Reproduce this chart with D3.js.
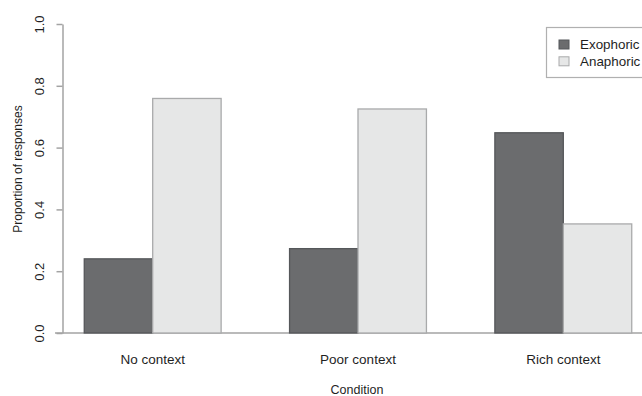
<!DOCTYPE html>
<html>
<head>
<meta charset="utf-8">
<script src="https://cdn.jsdelivr.net/npm/d3@7"></script>
<style>
  html, body { margin: 0; padding: 0; background: #fff; }
  svg { display: block; font-family: "Liberation Sans", Arial, Helvetica, sans-serif; }
</style>
</head>
<body>
<svg id="chart" width="642" height="396"></svg>
<script>
// Conditions on the x axis
const categories = ["No context", "Poor context", "Rich context"];
// Response types (grouped bars)
const seriesNames = ["Exophoric", "Anaphoric"];
// Proportion of responses per condition
const exophoric = [0.240, 0.273, 0.648];
const anaphoric = [0.759, 0.725, 0.353];
// Y-axis ticks
const yTicks = [0.0, 0.2, 0.4, 0.6, 0.8, 1.0];

const seriesValues = [exophoric, anaphoric];
const fills = ["#6b6c6e", "#e6e7e7"];
const strokes = ["#55575a", "#a9aaab"];

const svg = d3.select("#chart");
const axisColor = "#a3a3a3";
const textColor = "#1f1f1f";

const y = d3.scaleLinear().domain([0, 1]).range([333, 24]);

const x0 = d3.scaleBand()
  .domain(categories)
  .range([50.05, 665.95])
  .paddingInner(1 / 3)
  .paddingOuter(1 / 6);

const x1 = d3.scaleBand()
  .domain(seriesNames)
  .range([0, x0.bandwidth()]);

// Baseline
svg.append("line")
  .attr("x1", 55).attr("x2", 642)
  .attr("y1", y(0)).attr("y2", y(0))
  .attr("stroke", axisColor).attr("stroke-width", 1.5);

// Bars
const groups = svg.append("g").selectAll("g")
  .data(categories)
  .join("g")
  .attr("transform", d => `translate(${x0(d)},0)`);

groups.selectAll("rect")
  .data((c, i) => seriesNames.map((s, j) => ({ s, j, v: seriesValues[j][i] })))
  .join("rect")
  .attr("x", d => x1(d.s))
  .attr("y", d => y(d.v))
  .attr("width", x1.bandwidth())
  .attr("height", d => y(0) - y(d.v))
  .attr("fill", d => fills[d.j])
  .attr("stroke", d => strokes[d.j])
  .attr("stroke-width", 1.3);

// Y axis
const yAxis = svg.append("g")
  .attr("transform", "translate(62.5,0)")
  .call(d3.axisLeft(y).tickValues(yTicks).tickSize(6).tickSizeOuter(0).tickFormat(d3.format(".1f")));
yAxis.select(".domain").attr("stroke", axisColor).attr("stroke-width", 1.5);
yAxis.selectAll(".tick line").attr("stroke", axisColor).attr("stroke-width", 1.5);
yAxis.selectAll(".tick text")
  .attr("x", null).attr("dy", null)
  .attr("transform", "translate(-23.5,0) rotate(-90)")
  .attr("text-anchor", "middle")
  .attr("dominant-baseline", "central")
  .attr("fill", textColor)
  .style("font-size", "13px")
  .style("font-family", "Liberation Sans, Arial, sans-serif");

// Category labels
svg.append("g").selectAll("text")
  .data(categories)
  .join("text")
  .attr("x", d => x0(d) + x0.bandwidth() / 2)
  .attr("y", 359)
  .attr("text-anchor", "middle")
  .attr("dominant-baseline", "central")
  .attr("fill", textColor)
  .style("font-size", "13.5px")
  .text(d => d);

// Axis titles
svg.append("text")
  .attr("x", 357).attr("y", 390)
  .attr("text-anchor", "middle")
  .attr("dominant-baseline", "central")
  .attr("fill", textColor)
  .style("font-size", "12.5px")
  .text("Condition");

svg.append("text")
  .attr("transform", "translate(18,169) rotate(-90)")
  .attr("text-anchor", "middle")
  .attr("dominant-baseline", "central")
  .attr("fill", textColor)
  .style("font-size", "12px")
  .text("Proportion of responses");

// Legend
const legend = svg.append("g");
legend.append("rect")
  .attr("x", 546.5).attr("y", 27.5)
  .attr("width", 110).attr("height", 50)
  .attr("fill", "#fff")
  .attr("stroke", "#b0b0b0").attr("stroke-width", 1.2);

const items = legend.selectAll("g.item")
  .data(seriesNames)
  .join("g")
  .attr("class", "item")
  .attr("transform", (d, i) => `translate(0,${44.5 + i * 16.8})`);

items.append("rect")
  .attr("x", 559).attr("y", -4.5)
  .attr("width", 10).attr("height", 9)
  .attr("fill", (d, i) => fills[i])
  .attr("stroke", (d, i) => strokes[i])
  .attr("stroke-width", 1);

items.append("text")
  .attr("x", 580).attr("y", 0)
  .attr("dominant-baseline", "central")
  .attr("fill", textColor)
  .style("font-size", "13.4px")
  .text(d => d);
</script>
</body>
</html>
